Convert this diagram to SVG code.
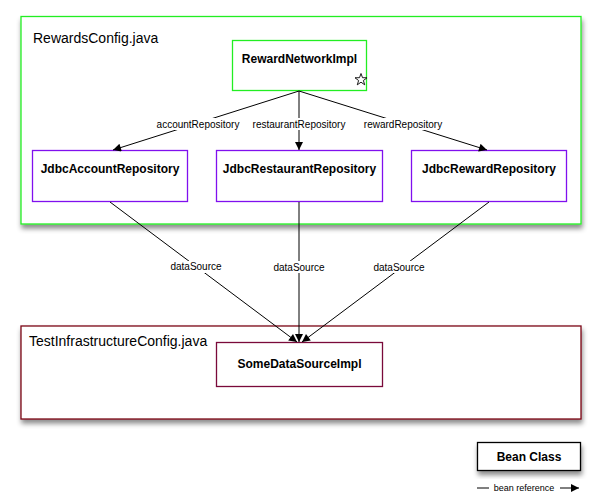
<svg xmlns="http://www.w3.org/2000/svg" width="602" height="503" viewBox="0 0 602 503">
<defs>
<filter id="sh" x="-10%" y="-10%" width="130%" height="140%">
<feDropShadow dx="1" dy="4" stdDeviation="2.5" flood-color="#000" flood-opacity="0.45"/>
</filter>
<marker id="ah" viewBox="0 0 10 10" refX="10" refY="5" markerWidth="10" markerHeight="8" markerUnits="userSpaceOnUse" orient="auto">
<path d="M0,0 L10,5 L0,10 z" fill="#000"/>
</marker>
<style>
.cfg{fill:#fff;filter:url(#sh)}
.node{fill:#fff;stroke-width:1.3}
.t{font-family:"Liberation Sans",Arial,sans-serif;fill:#000}
.title{font-size:14px}
.nl{font-size:12px;font-weight:bold;text-anchor:middle}
.el{font-size:10px;text-anchor:middle}
.edge{stroke:#000;stroke-width:1;fill:none;marker-end:url(#ah)}
.lbg{fill:#fff}
</style>
</defs>
<rect width="602" height="503" fill="#fff"/>

<g id="rewardsConfig">
<rect class="cfg" x="21" y="16.5" width="560" height="207.5" stroke="#22ee22" stroke-width="1.3"/>
<text class="t title" x="33" y="43">RewardsConfig.java</text>
</g>
<g id="testInfrastructureConfig">
<rect class="cfg" x="21" y="326" width="560" height="93" stroke="#7a0a14" stroke-width="1.3"/>
<text class="t title" x="29" y="346">TestInfrastructureConfig.java</text>
</g>

<g id="rewardNetworkImpl">
<rect class="node" x="232.5" y="40.5" width="134" height="50" stroke="#22ee22"/>
<text class="t nl" x="299.5" y="63">RewardNetworkImpl</text>
<polygon points="361,73.5 362.5,77.7 367,77.8 363.4,80.5 364.7,84.8 361,82.2 357.3,84.8 358.6,80.5 355,77.8 359.5,77.7" fill="#fff" stroke="#000" stroke-width="0.9"/>
</g>
<g id="jdbcAccountRepository">
<rect class="node" x="32.5" y="150.5" width="155" height="51" stroke="#8010ee"/>
<text class="t nl" x="110" y="173">JdbcAccountRepository</text>
</g>
<g id="jdbcRestaurantRepository">
<rect class="node" x="216.5" y="150.5" width="166" height="51" stroke="#8010ee"/>
<text class="t nl" x="299.5" y="173">JdbcRestaurantRepository</text>
</g>
<g id="jdbcRewardRepository">
<rect class="node" x="411.5" y="150.5" width="155" height="51" stroke="#8010ee"/>
<text class="t nl" x="489" y="173">JdbcRewardRepository</text>
</g>
<g id="someDataSourceImpl">
<rect class="node" x="216.5" y="342.5" width="166" height="44" stroke="#7a0a3a"/>
<text class="t nl" x="299.5" y="368">SomeDataSourceImpl</text>
</g>

<g id="connectors">
<line class="edge" x1="299" y1="91" x2="113" y2="150"/>
<line class="edge" x1="299" y1="91" x2="299" y2="150"/>
<line class="edge" x1="299" y1="91" x2="487" y2="150"/>
<line class="edge" x1="110" y1="202" x2="297" y2="342"/>
<line class="edge" x1="299" y1="202" x2="299" y2="342"/>
<line class="edge" x1="489" y1="202" x2="302" y2="342"/>
<rect class="lbg" x="156" y="118" width="85" height="12"/>
<rect class="lbg" x="249" y="118" width="100" height="12"/>
<rect class="lbg" x="364" y="118" width="80" height="12"/>
<rect class="lbg" x="170" y="261" width="53" height="12"/>
<rect class="lbg" x="273" y="261" width="53" height="12"/>
<rect class="lbg" x="373" y="261" width="53" height="12"/>
<text class="t el" x="198" y="127.5">accountRepository</text>
<text class="t el" x="299" y="127.5">restaurantRepository</text>
<text class="t el" x="403" y="128">rewardRepository</text>
<text class="t el" x="196" y="270">dataSource</text>
<text class="t el" x="299" y="270.5">dataSource</text>
<text class="t el" x="399" y="270.5">dataSource</text>
</g>

<g id="legend">
<rect x="477.5" y="442.5" width="103" height="28" fill="#fff" stroke="#000" stroke-width="1.3" filter="url(#sh)"/>
<text class="t nl" x="529" y="460.5">Bean Class</text>
<line x1="477" y1="488" x2="489" y2="488" stroke="#000" stroke-width="1"/>
<text class="t" x="524" y="491" font-size="9" text-anchor="middle">bean reference</text>
<line x1="560" y1="488" x2="579" y2="488" stroke="#000" stroke-width="1" marker-end="url(#ah)"/>
</g>
</svg>
